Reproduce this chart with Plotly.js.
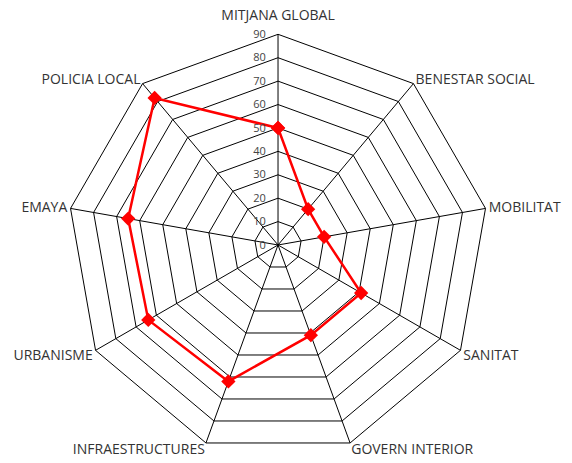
<!DOCTYPE html>
<html>
<head>
<meta charset="utf-8">
<script src="https://cdn.plot.ly/plotly-3.0.1.min.js"></script>
<style>html,body{margin:0;padding:0;background:#fff}#chart{width:572px;height:463px}</style>
</head>
<body>
<div id="chart"></div>
<script>
const categories = ["MITJANA GLOBAL","BENESTAR SOCIAL","MOBILITAT","SANITAT","GOVERN INTERIOR","INFRAESTRUCTURES","URBANISME","EMAYA","POLICIA LOCAL"];
const values = [50, 20, 20, 41, 41, 62, 64, 65, 82];
const radialTicks = [0,10,20,30,40,50,60,70,80,90];

const trace = {
  type: 'scatterpolar',
  r: values.concat([values[0]]),
  theta: categories.concat([categories[0]]),
  mode: 'lines+markers',
  line: {color: '#ff0000', width: 2.5},
  marker: {color: '#ff0000', symbol: 'diamond', size: 11},
  showlegend: false,
  hoverinfo: 'skip'
};

const layout = {
  width: 572, height: 463,
  margin: {l: 0, r: 0, t: 0, b: 0},
  paper_bgcolor: '#ffffff',
  font: {family: 'Open Sans, sans-serif', color: '#333333'},
  polar: {
    domain: {x: [0.1177, 0.8544], y: [0.0158, 0.9259]},
    bgcolor: '#ffffff',
    gridshape: 'linear',
    angularaxis: {
      direction: 'clockwise',
      rotation: 90,
      showline: true, linecolor: '#000000', linewidth: 1,
      gridcolor: '#000000', gridwidth: 1,
      ticks: '', ticklen: 0,
      tickfont: {size: 14, color: '#333333', family: 'Open Sans, sans-serif'}
    },
    radialaxis: {
      range: [0, 90],
      angle: 90,
      side: 'counterclockwise',
      tickangle: 90,
      tickvals: radialTicks,
      ticktext: radialTicks.map(String),
      showline: false,
      gridcolor: '#000000', gridwidth: 1,
      ticks: '',
      tickfont: {size: 11, color: '#444444', family: 'Open Sans, sans-serif'}
    }
  }
};

Plotly.newPlot('chart', [trace], layout, {staticPlot: true, displayModeBar: false}).then(function (gd) {
  const svg = gd.querySelector('svg.main-svg');
  const svgBox = svg.getBoundingClientRect();
  const radialSet = new Set(radialTicks.map(String));
  const catSet = new Set(categories);
  gd.querySelectorAll('text').forEach(function (t) {
    const s = t.textContent;
    const prev = t.getAttribute('transform') || '';
    if (radialSet.has(s)) {
      // label group is rotated -90deg: local (a,b) == screen (b,-a)
      t.setAttribute('transform', 'translate(0,-10) ' + prev);
    } else if (catSet.has(s)) {
      const b = t.getBoundingClientRect();
      const dy = (b.top + b.height / 2) - (svgBox.top + 245);
      let shift = 0;
      if (dy < -200) shift = -8;
      else if (dy < -50) shift = 2;
      else if (dy > 180) shift = -7;
      else if (dy > 50) shift = -3;
      if (shift) t.setAttribute('transform', 'translate(0,' + shift + ') ' + prev);
    }
  });
});
</script>
</body>
</html>
